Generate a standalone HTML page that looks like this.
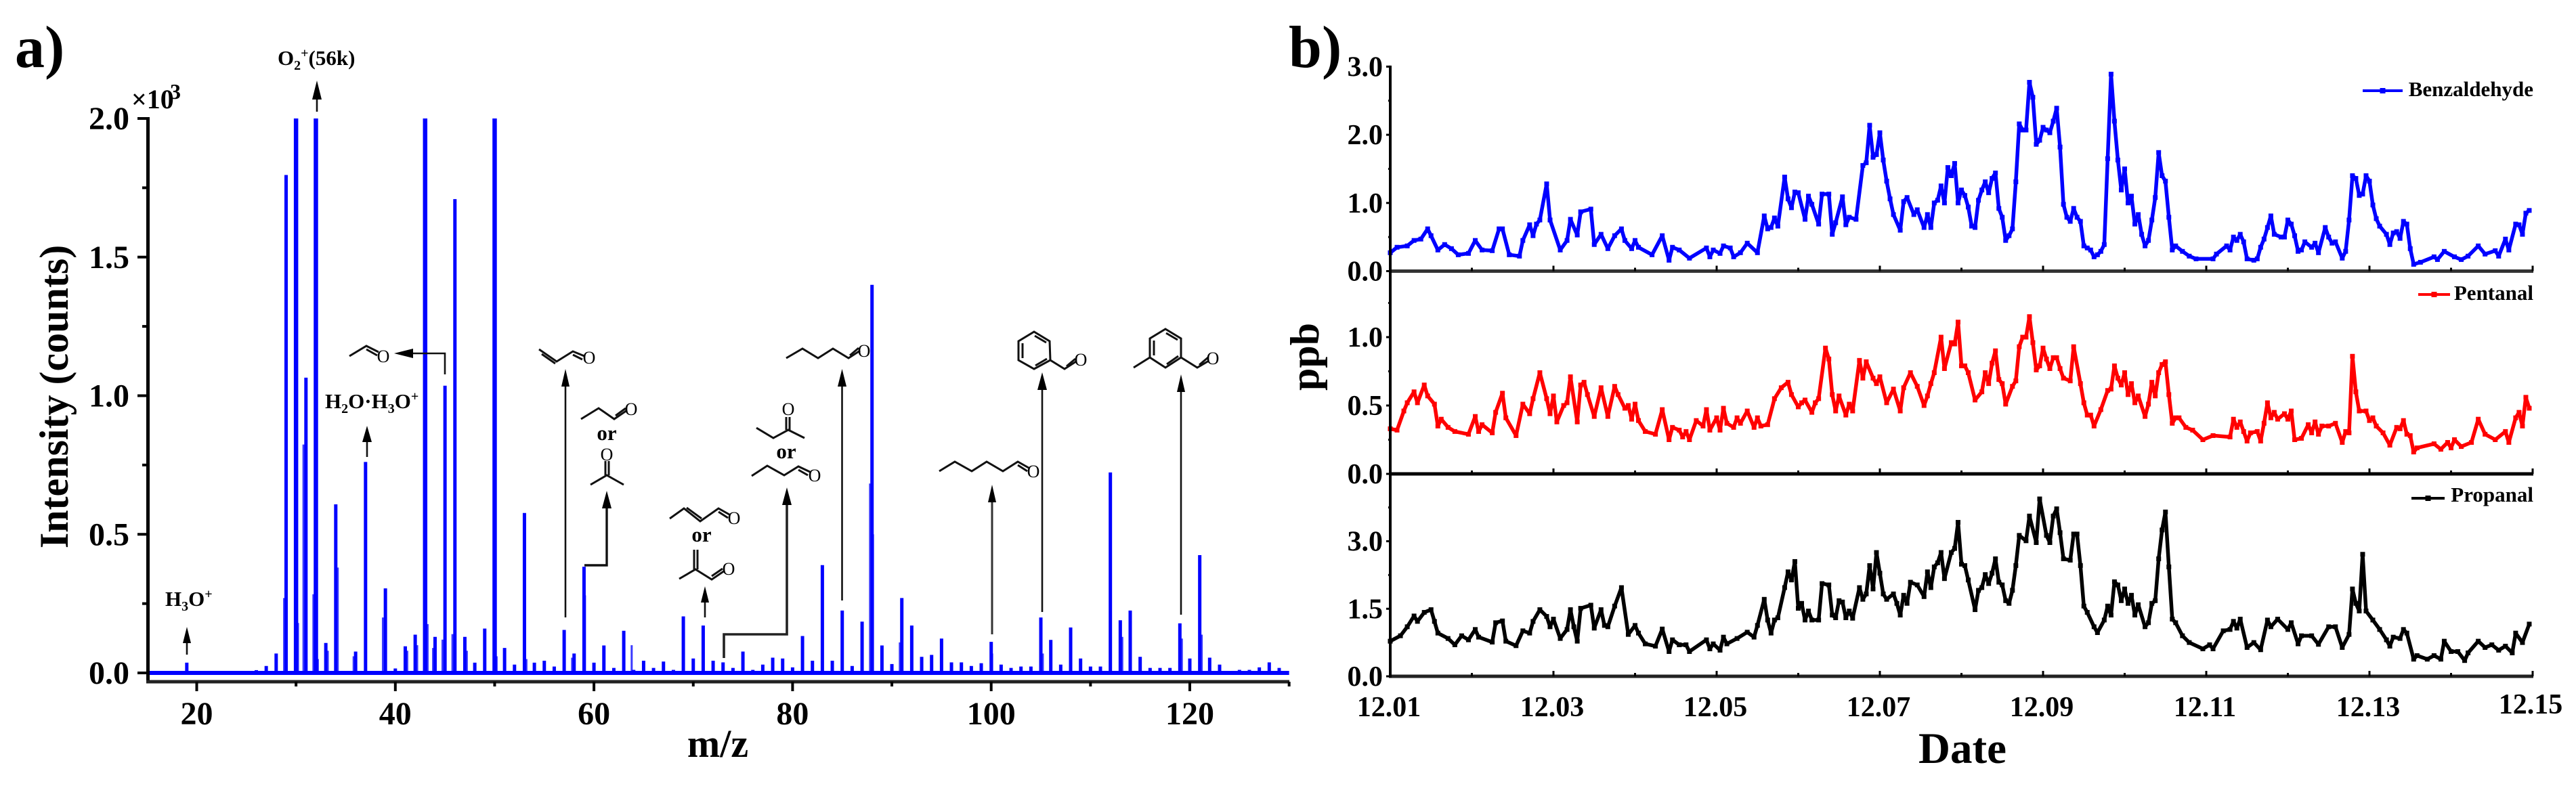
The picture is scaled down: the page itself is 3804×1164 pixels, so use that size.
<!DOCTYPE html>
<html lang="en">
<head>
<meta charset="utf-8">
<title>Mass spectrum and aldehyde time series</title>
<style>
html,body{margin:0;padding:0;background:#fff;}
body{width:3804px;height:1164px;overflow:hidden;}
svg{display:block;}
text{font-family:"Liberation Serif",serif;font-weight:bold;fill:#000;}
.mol{fill:none;stroke:#111;stroke-width:3;stroke-linejoin:miter;}
.mo{font-size:26px;font-weight:normal;text-anchor:middle;}
.lab{font-size:31px;}
.arr{fill:none;stroke:#111;stroke-width:2.6;}
.head{fill:#000;stroke:none;}
</style>
</head>
<body>
<svg id="figure" xmlns="http://www.w3.org/2000/svg" width="3804" height="1164" viewBox="0 0 3804 1164">
  <rect x="0" y="0" width="3804" height="1164" fill="#fff"/>
  <text x="22" y="99" font-size="88">a)</text>
  <text x="1903" y="99" font-size="88">b)</text>
  <g id="spectrum"></g>
  <g id="series"></g>

  <g id="annotations">
    <!-- O2+ -->
    <text class="lab" x="410" y="96">O<tspan font-size="20" dy="7">2</tspan><tspan font-size="20" dy="-18">+</tspan><tspan dy="11">(56k)</tspan></text>
    <g><path class="arr" d="M468 165V130"/><polygon class="head" points="468,119 475,147 461,147"/></g>
    <!-- H3O+ -->
    <text class="lab" x="244" y="895">H<tspan font-size="20" dy="7">3</tspan><tspan dy="-7">O</tspan><tspan font-size="20" dy="-11">+</tspan></text>
    <g><path class="arr" d="M276 967V935"/><polygon class="head" points="276,926 282,950 270,950"/></g>
    <!-- H2O.H3O+ -->
    <text class="lab" x="480" y="603">H<tspan font-size="20" dy="7">2</tspan><tspan dy="-7">O·H</tspan><tspan font-size="20" dy="7">3</tspan><tspan dy="-7">O</tspan><tspan font-size="20" dy="-11">+</tspan></text>
    <g><path class="arr" d="M542 675V640"/><polygon class="head" points="542,629 549,653 535,653"/></g>
    <!-- Acetaldehyde -->
    <g><path class="arr" d="M657 553V522H595"/><polygon class="head" points="582,522 610,515 610,529"/></g>
    <g><polyline class="mol" points="516,526 541,511 559,520"/><polyline class="mol" points="541,516 557,525"/><text class="mo" x="566" y="535">O</text></g>
    <!-- Acrolein -->
    <g><path class="arr" d="M835 912V556"/><polygon class="head" points="835,545 841,571 829,571"/></g>
    <g><polyline class="mol" points="796,516 822,534 846,519 863,526"/><polyline class="mol" points="800,523 820,537"/><polyline class="mol" points="846,524 860,531"/><text class="mo" x="870" y="537">O</text></g>
    <!-- m59 -->
    <g><path d="M863 835H896V736" fill="none" stroke="#111" stroke-width="3.4"/><polygon class="head" points="896,725 903,751 889,751"/></g>
    <g><polyline class="mol" points="858,619 884,603 907,619 926,606"/><polyline class="mol" points="909,614 924,603"/><text class="mo" x="932" y="613">O</text></g>
    <text class="lab" x="896" y="650" text-anchor="middle" font-weight="normal">or</text>
    <g><text class="mo" x="896" y="680">O</text><polyline class="mol" points="894,681 894,702"/><polyline class="mol" points="899,681 899,702"/><polyline class="mol" points="872,716 896,702 921,716"/></g>
    <!-- m71 -->
    <g><path class="arr" d="M1041 912V876"/><polygon class="head" points="1041,866 1047,890 1035,890"/></g>
    <g><polyline class="mol" points="989,766 1010,751 1034,770 1061,751 1077,760"/><polyline class="mol" points="1014,750 1036,766"/><polyline class="mol" points="1061,756 1075,765"/><text class="mo" x="1084" y="774">O</text></g>
    <text class="lab" x="1036" y="800" text-anchor="middle" font-weight="normal">or</text>
    <g><polyline class="mol" points="1025,812 1025,841"/><polyline class="mol" points="1030,812 1030,841"/><polyline class="mol" points="1003,855 1027,841 1051,856 1070,843"/><polyline class="mol" points="1051,851 1067,840"/><text class="mo" x="1076" y="849">O</text></g>
    <!-- m73 -->
    <g><path d="M1069 972V937H1162V731" fill="none" stroke="#222" stroke-width="3.6"/><polygon class="head" points="1162,720 1169,746 1155,746"/></g>
    <g><text class="mo" x="1164" y="613">O</text><polyline class="mol" points="1161,616 1161,635"/><polyline class="mol" points="1166,616 1166,635"/><polyline class="mol" points="1117,632 1142,647 1164,635 1188,647"/></g>
    <text class="lab" x="1161" y="677" text-anchor="middle" font-weight="normal">or</text>
    <g><polyline class="mol" points="1110,703 1133,688 1158,702 1179,689 1196,697"/><polyline class="mol" points="1179,694 1193,702"/><text class="mo" x="1203" y="711">O</text></g>
    <!-- m85 -->
    <g><path class="arr" d="M1243.5 887V556"/><polygon class="head" points="1243.5,545 1250,571 1237,571"/></g>
    <g><polyline class="mol" points="1161,529 1185,515 1208,529 1230,515 1253,529 1270,518"/><polyline class="mol" points="1255,525 1268,514"/><text class="mo" x="1276" y="527">O</text></g>
    <!-- m100 -->
    <g><path d="M1465 937V727" fill="none" stroke="#333" stroke-width="3"/><polygon class="head" points="1465,716 1471,742 1459,742"/></g>
    <g><polyline class="mol" points="1387,696 1410,682 1435,696 1457,682 1481,696 1503,682 1519,691"/><polyline class="mol" points="1503,687 1517,696"/><text class="mo" x="1526" y="705">O</text></g>
    <!-- m105 -->
    <g><path class="arr" d="M1539 904V561"/><polygon class="head" points="1539,550 1546,576 1532,576"/></g>
    <g><polygon class="mol" points="1527,490 1550,504 1551,532 1527,545 1504,532 1504,504"/><polyline class="mol" points="1528,496 1545,506"/><polyline class="mol" points="1510,507 1510,529"/><polyline class="mol" points="1529,540 1546,530"/><polyline class="mol" points="1551,532 1572,545 1589,534"/><polyline class="mol" points="1575,541 1588,530"/><text class="mo" x="1596" y="540">O</text></g>
    <!-- m119 -->
    <g><path class="arr" d="M1744 908V564"/><polygon class="head" points="1744,553 1750,579 1738,579"/></g>
    <g><polygon class="mol" points="1721,486 1744,500 1744,528 1721,543 1698,528 1698,500"/><polyline class="mol" points="1722,492 1739,502"/><polyline class="mol" points="1704,503 1704,525"/><polyline class="mol" points="1723,538 1740,526"/><polyline class="mol" points="1698,528 1674,543"/><polyline class="mol" points="1744,528 1768,543 1785,533"/><polyline class="mol" points="1771,539 1784,528"/><text class="mo" x="1791" y="538">O</text></g>
  </g>
</svg>

<script>
/* ---------- Panel a: mass spectrum ---------- */
const peakMz = [19,26,27,28,29,30,31,32,33,34,36,37,39,40,41,42,43,44,45,46,47,48,49,50,51,52,53,54,55,56,57,58,59,60,61,62,63,64,65,66,67,68,69,70,71,72,73,74,75,76,77,78,79,80,81,82,83,84,85,86,87,88,89,90,91,92,93,94,95,96,97,98,99,100,101,102,103,104,105,106,107,108,109,110,111,112,113,114,115,116,117,118,119,120,121,122,123,124,125,126,127,128,129];
const peakIntensity = [0.037,0.01,0.025,0.07,1.796,2.0,1.065,2.0,0.108,0.608,0.077,0.761,0.305,0.016,0.096,0.138,2.0,0.13,1.036,1.709,0.13,0.037,0.16,2.0,0.09,0.03,0.577,0.037,0.044,0.023,0.155,0.07,0.383,0.037,0.099,0.018,0.152,0.011,0.044,0.018,0.041,0.011,0.204,0.052,0.171,0.044,0.038,0.018,0.077,0.011,0.03,0.055,0.052,0.02,0.133,0.044,0.389,0.044,0.225,0.025,0.185,1.40,0.099,0.032,0.27,0.171,0.058,0.065,0.124,0.038,0.038,0.025,0.035,0.112,0.03,0.018,0.023,0.023,0.2,0.119,0.03,0.164,0.052,0.023,0.023,0.723,0.19,0.225,0.058,0.018,0.018,0.018,0.179,0.052,0.425,0.055,0.03,0.004,0.011,0.011,0.02,0.038,0.018];
const shoulderMz = [28.8,30.2,30.75,31.75,32.2,33.2,34.2,35.8,38.75,41.2,42.2,43.25,43.8,44.75,45.75,47.2,50.2,53.2,57.8,59.1,63.8,87.8,88.1,90.8,100.1,105.2,112.05,113.2,119.2,121.2];
const shoulderIntensity = [0.27,0.18,0.824,0.284,0.05,0.08,0.38,0.06,0.2,0.08,0.1,0.176,0.09,0.12,0.14,0.08,0.06,0.05,0.055,0.28,0.1,0.683,0.5,0.11,0.07,0.07,0.51,0.13,0.124,0.138];
const spectrumYTicks = [0,0.5,1,1.5,2];
const spectrumYMinor = [0.25,0.75,1.25,1.75];
const spectrumXTicks = [20,40,60,80,100,120];
const spectrumXMinor = [30,50,70,90,110,130];

/* ---------- Panel b: time series (hours since 12.01 00:00, ppb) ---------- */
const benzaldehydeHours = [0,2,5,7,9,11,12,14,16,18,20,23,25,27,30,32,33,35,38,39,41,42,43,44,46,47,50,52,53,55,56,59,60,62,64,66,68,69,71,72,73,77,80,82,83,85,88,93,94,95,97,98,100,101,103,105,108,110,111,112,113,114,116,117,118,119,120,122,123,124,126,127,129,130,131,133,134,135,137,139,140,141,142,143,144,145,146,147,148,150,151,152,154,155,157,158,
159,160,161,162,163,164,165,166,167,168,169,170,171,172,173,174,175,176,177,178,179,180,181,182,183,184,185,186,187,188,189,190,191,192,193,194,195,196,197,198,199,200,201,202,203,204,205,206,207,208,209,210,211,212,213,214,215,216,217,218,219,220,221,222,223,224,225,226,227,228,229,230,231,233,235,237,242,243,246,247,248,249,250,251,252,254,255,256,257,258,259,260,262,263,264,265,266,267,268,269,271,272,273,275,276,277,278,280,281,282,283,284,285,286,287,288,289,290,291,293,294,295,296,297,298,299,300,301,303,307,308,310,313,315,317,320,322,325,326,328,329,331,332,333,334,335];
const benzaldehydePpb = [.27,.35,.37,.45,.47,.62,.52,.31,.39,.33,.24,.26,.45,.31,.30,.62,.62,.24,.22,.45,.68,.52,.69,.75,1.28,.75,.31,.45,.76,.53,.87,.91,.39,.54,.33,.52,.62,.45,.33,.45,.35,.24,.52,.16,.35,.31,.19,.34,.21,.31,.26,.37,.34,.21,.27,.41,.27,.81,.62,.64,.78,.66,1.38,1.06,.93,1.16,1.15,.76,1.10,.98,.69,1.13,1.13,.54,.71,1.09,.68,.79,.76,1.55,1.59,2.14,1.67,1.71,2.03,1.63,1.32,1.06,.83,.60,1.02,1.08,.83,.90,.64,.83,
.64,1.0,1.04,1.25,1.0,1.52,1.40,1.58,1.0,1.19,1.11,.94,.66,.64,1.04,1.19,1.31,1.15,1.36,1.44,.92,.79,.45,.52,.62,1.31,2.16,2.07,2.07,2.77,2.55,1.86,1.92,2.11,2.07,2.03,2.20,2.39,1.82,.98,.79,.73,.92,.79,.73,.37,.34,.31,.21,.24,.29,.39,1.65,2.89,2.20,1.63,1.19,1.50,1.0,1.10,.69,.83,.54,.37,.45,.75,1.08,1.74,1.40,1.32,.79,.31,.37,.29,.22,.18,.18,.25,.37,.31,.50,.45,.54,.43,.18,.16,.18,.35,.47,.64,.81,.54,.50,.50,.75,.69,.52,.29,.31,.43,.35,.41,.27,.64,.50,.41,.43,.19,.29,.75,1.40,1.36,1.11,1.13,1.40,1.32,.97,.77,.66,.54,.39,.56,.58,.48,.73,.69,.33,.10,.13,.21,.17,.29,.21,.17,.22,.37,.25,.30,.22,.47,.31,.69,.68,.54,.85,.89];

const pentanalHours = [0,2,4,5,7,8,10,11,13,14,15,17,19,23,25,26,27,30,31,33,34,37,39,41,42,44,46,47,48,49,51,52,53,55,56,57,58,60,62,64,66,67,69,70,71,72,73,75,78,80,82,83,85,86,87,88,90,92,93,94,96,97,98,99,101,102,103,105,107,108,109,111,113,115,117,118,120,121,122,124,125,126,128,129,130,131,132,134,135,136,138,139,140,142,143,144,146,148,150,151,153,155,157,158,
159,160,162,163,165,166,167,168,169,170,172,174,175,176,177,178,179,180,181,183,184,185,186,187,188,189,190,191,192,193,194,195,196,197,198,200,201,203,204,205,206,207,209,211,212,213,214,215,216,217,218,219,220,222,223,224,225,226,227,228,229,230,231,232,234,236,239,242,247,248,249,250,251,252,253,255,256,257,258,259,260,261,263,264,265,266,268,270,271,272,273,274,276,278,280,281,282,283,284,285,287,288,289,290,292,294,296,297,298,299,300,301,302,307,309,311,312,313,315,318,320,322,325,328,329,331,332,333,334,335];
const pentanalPpb = [.33,.32,.46,.52,.60,.52,.65,.57,.51,.35,.40,.34,.31,.29,.42,.31,.36,.30,.45,.59,.41,.28,.51,.44,.55,.74,.55,.44,.57,.38,.50,.52,.71,.38,.65,.67,.58,.42,.63,.42,.64,.58,.48,.50,.40,.51,.39,.31,.29,.47,.25,.34,.32,.27,.31,.25,.39,.35,.47,.32,.41,.32,.48,.37,.34,.41,.37,.46,.34,.41,.35,.36,.55,.63,.67,.58,.49,.52,.54,.45,.52,.55,.92,.84,.58,.46,.57,.43,.51,.46,.83,.70,.82,.70,.66,.71,.52,.62,.46,.63,.74,.64,.50,.57,
.66,.74,1.0,.77,.96,.95,1.11,.79,.79,.74,.54,.60,.74,.66,.81,.90,.69,.66,.51,.64,.68,.93,1.0,1.0,1.15,.96,.76,.79,.92,.84,.77,.85,.85,.77,.70,.68,.93,.66,.52,.43,.43,.35,.47,.61,.62,.79,.70,.65,.74,.58,.66,.52,.57,.42,.51,.67,.57,.74,.80,.82,.58,.37,.41,.41,.34,.32,.25,.28,.27,.40,.34,.38,.31,.24,.30,.31,.24,.37,.52,.41,.45,.40,.44,.40,.46,.25,.26,.36,.30,.38,.29,.35,.35,.37,.23,.31,.30,.86,.60,.46,.46,.39,.41,.35,.30,.21,.34,.33,.39,.29,.28,.16,.19,.22,.18,.23,.19,.25,.20,.23,.40,.29,.25,.31,.23,.41,.45,.35,.56,.48];

const propanalHours = [0,3,5,7,8,10,12,13,14,17,19,21,23,25,26,30,31,33,34,37,39,41,42,44,46,47,48,50,52,53,54,55,56,59,60,62,63,64,66,68,70,72,73,75,78,80,82,83,85,87,88,93,94,95,97,98,99,102,105,107,108,110,111,112,113,114,116,117,118,119,120,121,122,123,124,126,127,129,130,131,132,133,134,135,136,138,139,140,141,142,143,144,145,146,148,149,150,151,152,153,155,157,158,
159,160,161,162,163,165,166,167,168,169,170,172,173,174,175,176,177,178,179,180,181,182,183,184,185,187,188,190,191,193,194,195,196,197,198,200,201,202,203,204,205,207,208,210,211,212,213,214,215,216,217,218,219,220,222,223,224,225,226,227,228,229,230,231,233,235,239,241,242,245,247,248,249,250,252,254,256,258,259,261,264,265,267,268,271,273,276,278,280,282,283,284,285,286,287,289,291,293,294,295,297,298,299,301,302,305,307,309,310,312,314,316,317,320,322,324,326,328,330,331,333,335];
const propanalPpb = [.78,.90,1.10,1.34,1.22,1.42,1.48,1.22,.96,.84,.70,.90,.81,1.04,.87,.76,1.19,1.23,.78,.68,1.01,.96,1.22,1.48,1.33,1.10,1.27,.84,1.04,1.48,1.10,.78,1.51,1.58,1.07,1.48,1.13,1.10,1.56,1.97,.93,1.13,.96,.72,.67,1.05,.55,.81,.70,.70,.55,.81,.61,.72,.58,.87,.72,.84,.98,.87,1.13,1.71,1.25,.96,1.25,1.30,1.97,2.32,2.14,2.55,1.51,1.62,1.25,1.45,1.25,1.25,2.06,2.03,1.36,1.30,1.68,1.65,1.30,1.45,1.29,1.97,1.71,1.83,2.46,1.94,2.75,2.29,1.83,1.71,1.83,1.62,1.36,1.80,1.62,2.09,2.03,1.77,2.32,
1.97,2.43,2.52,2.75,2.17,2.75,2.84,3.42,2.49,2.46,2.14,1.48,1.91,1.97,2.26,2.06,2.29,2.61,2.09,2.03,1.68,1.62,1.91,2.46,3.13,3.01,3.56,2.97,3.94,3.13,2.97,3.56,3.72,3.19,2.61,2.58,3.16,3.16,2.46,1.56,1.42,1.10,.97,1.25,1.56,1.36,2.10,2.03,1.68,1.94,1.62,1.80,1.36,1.59,1.10,1.19,1.62,1.68,2.61,3.25,3.65,2.43,1.27,1.19,.90,.75,.61,.70,.61,1.01,1.04,1.22,1.07,1.27,.64,.75,.59,1.25,1.10,1.27,1.04,1.19,.72,.90,.90,.71,1.10,1.10,.64,.93,1.94,1.62,1.45,2.71,1.45,1.25,1.04,.81,.67,.87,.84,1.04,.96,.38,.46,.38,.46,.38,.78,.55,.55,.35,.52,.78,.64,.70,.58,.67,.52,.96,.75,1.16];

const benzaldehydeYTicks = [0,1,2,3];
const benzaldehydeYMinor = [0.5,1.5,2.5];
const pentanalYTicks = [0,0.5,1];
const pentanalYMinor = [0.25,0.75,1.25];
const propanalYTicks = [0,1.5,3];
const propanalYMinor = [0.75,2.25,3.75];
const dayLabels = ["12.01","12.03","12.05","12.07","12.09","12.11","12.13","12.15"];
const dayTicks = [1,3,5,7,9,11,13,15];
const dayMinor = [2,4,6,8,10,12,14];

/* ---------- helpers ---------- */
const NS = 'http://www.w3.org/2000/svg';
function el(parent, tag, attrs, txt){
  const n = document.createElementNS(NS, tag);
  for (const k in attrs) n.setAttribute(k, attrs[k]);
  if (txt !== undefined) n.textContent = txt;
  parent.appendChild(n);
  return n;
}
const BLUE = '#0000ff', RED = '#ff0000', INK = '#000';

/* ---------- Panel a drawing ---------- */
const mzX = m => 290.5 + 14.665 * (m - 20);
const intY = v => 994 - 409.5 * v;
const sp = document.getElementById('spectrum');

shoulderMz.forEach((m, i) => {
  const s = el(sp, 'line', {x1: mzX(m), x2: mzX(m), y1: intY(0), y2: intY(shoulderIntensity[i]), stroke: '#3a3aff', 'stroke-width': 3});
  
  
});
peakMz.forEach((m, i) => {
  const p = el(sp, 'line', {x1: mzX(m), x2: mzX(m), y1: intY(0), y2: intY(peakIntensity[i]), stroke: BLUE, 'stroke-width': peakIntensity[i] >= 2 ? 6.5 : 5});
  
  
});
const baseline = el(sp, 'line', {x1: mzX(15), x2: mzX(130), y1: intY(0), y2: intY(0), stroke: BLUE, 'stroke-width': 6});



const ayAxis = el(sp, 'line', {x1: 218.5, x2: 218.5, y1: intY(2) - 2, y2: 1009, stroke: INK, 'stroke-width': 5});


const axAxis = el(sp, 'line', {x1: 216, x2: 1904, y1: 1007, y2: 1007, stroke: '#222', 'stroke-width': 5});



spectrumYTicks.forEach(v => {
  const t = el(sp, 'line', {x1: 203, x2: 218, y1: intY(v), y2: intY(v), stroke: INK, 'stroke-width': 4});
  
  
  const l = el(sp, 'text', {x: 191, y: intY(v) + 16, 'font-size': 48, 'text-anchor': 'end'}, v.toFixed(1));
  
  
});
spectrumYMinor.forEach(v => {
  const t = el(sp, 'line', {x1: 210, x2: 218, y1: intY(v), y2: intY(v), stroke: INK, 'stroke-width': 4});
  
  
});
spectrumXTicks.forEach(m => {
  const t = el(sp, 'line', {x1: mzX(m), x2: mzX(m), y1: 1007, y2: 1021, stroke: INK, 'stroke-width': 4});
  
  
  const l = el(sp, 'text', {x: mzX(m), y: 1070, 'font-size': 48, 'text-anchor': 'middle'}, String(m));
  
  
});
spectrumXMinor.forEach(m => {
  const t = el(sp, 'line', {x1: mzX(m), x2: mzX(m), y1: 1007, y2: 1014, stroke: INK, 'stroke-width': 4});
  
  
});
const ayTitle = el(sp, 'text', {x: 0, y: 0, 'font-size': 60, 'text-anchor': 'middle', transform: 'translate(100 586) rotate(-90)'}, 'Intensity (counts)');


const axTitle = el(sp, 'text', {x: 1060, y: 1118, 'font-size': 58, 'text-anchor': 'middle'}, 'm/z');


const mult = el(sp, 'text', {x: 194, y: 160, 'font-size': 40, 'font-weight': 'normal'}, '×10');


const multExp = el(sp, 'text', {x: 251, y: 146, 'font-size': 32, 'font-weight': 'normal'}, '3');



/* ---------- Panel b drawing ---------- */
const ts = document.getElementById('series');
const hourX = h => 2053 + 5.0208 * h;
const dayX = d => 2053 + 120.5 * (d - 1);
const topY = v => 400.5 - 100.7 * v;
const midY = v => 700 - 202 * v;
const lowY = v => 999 - 66.5 * v;

function panel(key, color, hours, values, yFn, ticks, minor, axisColor){
  const axisLine = el(ts, 'line', {x1: 2051, x2: dayX(15) + 1, y1: yFn(0), y2: yFn(0), stroke: axisColor, 'stroke-width': 5});
  
  
  dayTicks.forEach(d => {
    const t = el(ts, 'line', {x1: dayX(d), x2: dayX(d), y1: yFn(0) - 8, y2: yFn(0), stroke: INK, 'stroke-width': 3});
    
    
  });
  dayMinor.forEach(d => {
    const t = el(ts, 'line', {x1: dayX(d), x2: dayX(d), y1: yFn(0) - 5, y2: yFn(0), stroke: INK, 'stroke-width': 3});
    
    
  });
  ticks.forEach(v => {
    const t = el(ts, 'line', {x1: 2047, x2: 2053, y1: yFn(v), y2: yFn(v), stroke: INK, 'stroke-width': 3});
    
    
    const l = el(ts, 'text', {x: 2042, y: yFn(v) + 14, 'font-size': 42, 'text-anchor': 'end'}, v.toFixed(1));
    
    
  });
  minor.forEach(v => {
    const t = el(ts, 'line', {x1: 2050, x2: 2053, y1: yFn(v), y2: yFn(v), stroke: INK, 'stroke-width': 3});
    
    
  });
  const pts = hours.map((h, i) => hourX(h).toFixed(1) + ',' + yFn(values[i]).toFixed(1)).join(' ');
  const line = el(ts, 'polyline', {points: pts, fill: 'none', stroke: color, 'stroke-width': 5.5, 'stroke-linejoin': 'round'});
  
  
  hours.forEach((h, i) => {
    const m = el(ts, 'rect', {x: hourX(h) - 3.5, y: yFn(values[i]) - 3.5, width: 7, height: 7, fill: color});
    
    
  });
}
panel('benzaldehyde', BLUE, benzaldehydeHours, benzaldehydePpb, topY, benzaldehydeYTicks, benzaldehydeYMinor, '#333');
panel('pentanal', RED, pentanalHours, pentanalPpb, midY, pentanalYTicks, pentanalYMinor, '#000');
panel('propanal', INK, propanalHours, propanalPpb, lowY, propanalYTicks, propanalYMinor, '#222');

const byAxis = el(ts, 'line', {x1: 2053, x2: 2053, y1: topY(3) - 1.5, y2: lowY(0) + 2, stroke: INK, 'stroke-width': 4});



dayTicks.forEach((d, i) => {
  const l = el(ts, 'text', {x: d === 15 ? 3737 : dayX(d) - 2, y: d === 15 ? 1054 : 1058, 'font-size': 42, 'text-anchor': 'middle'}, dayLabels[i]);
  
  
});
const ppbTitle = el(ts, 'text', {x: 0, y: 0, 'font-size': 60, 'text-anchor': 'middle', transform: 'translate(1947 527) rotate(-90)'}, 'ppb');


const dateTitle = el(ts, 'text', {x: 2898, y: 1127, 'font-size': 65, 'text-anchor': 'middle'}, 'Date');



function legend(key, color, text, x1, x2, y, tx, ty){
  const l = el(ts, 'line', {x1: x1, x2: x2, y1: y, y2: y, stroke: color, 'stroke-width': 4});
  
  
  const m = el(ts, 'rect', {x: (x1 + x2) / 2 - 4, y: y - 4, width: 8, height: 8, fill: color});
  
  
  const t = el(ts, 'text', {x: tx, y: ty, 'font-size': 31, 'text-anchor': 'end'}, text);
  
  
}
legend('benzaldehyde', BLUE, 'Benzaldehyde', 3489, 3548, 134, 3741, 142);
legend('pentanal', RED, 'Pentanal', 3571, 3618, 435, 3741, 443);
legend('propanal', INK, 'Propanal', 3561, 3610, 736, 3741, 741);
</script>
</body>
</html>
